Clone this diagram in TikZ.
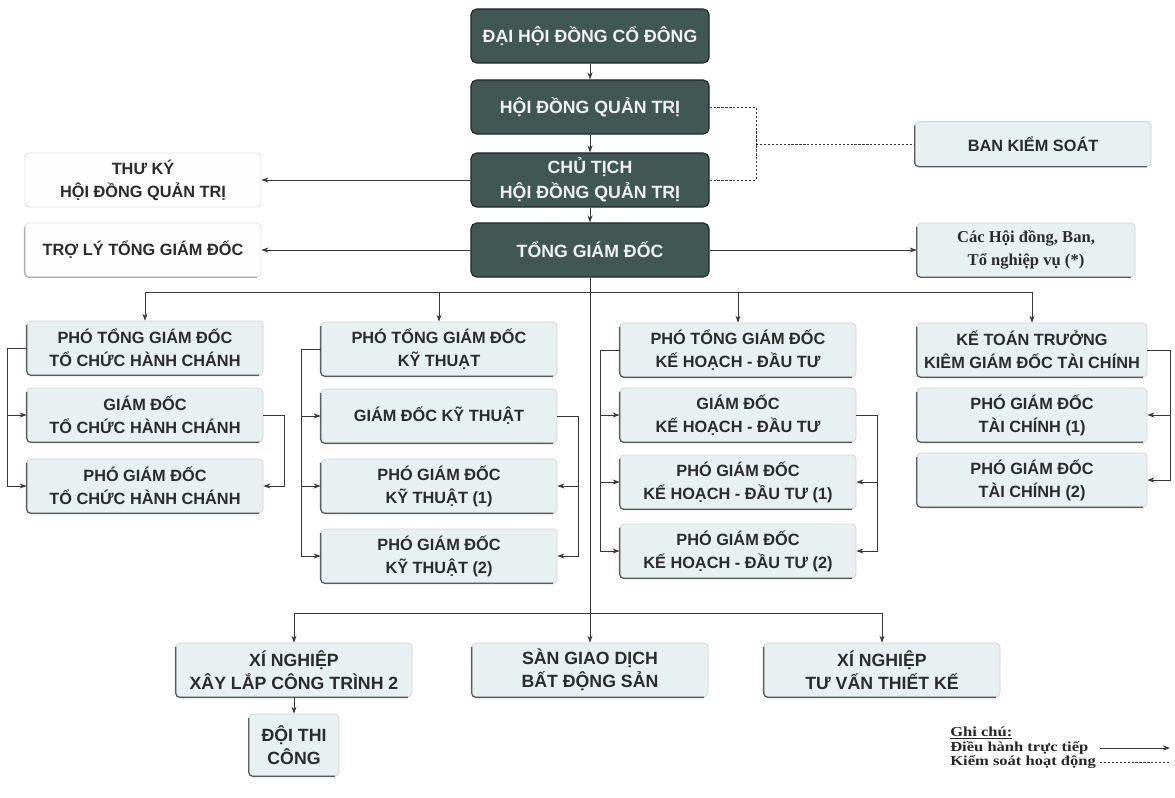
\documentclass[tikz,border=0pt]{standalone}
\usepackage{fontspec}
\setmainfont{Liberation Serif}
\setsansfont{Liberation Sans}
\newfontfamily\legendfont[FakeStretch=1.2]{Liberation Serif}
\usetikzlibrary{arrows.meta}

\definecolor{boxdark}{HTML}{415753}
\definecolor{boxdarkline}{HTML}{1F2A28}
\definecolor{boxlight}{HTML}{E9F0F2}
\definecolor{boxedge}{HTML}{585D5E}
\definecolor{linegray}{HTML}{383838}
\definecolor{textgray}{HTML}{2B2B2B}

\tikzset{
  darkbox/.style={rectangle, rounded corners=4pt, fill=boxdark, draw=boxdarkline, line width=0.8pt,
    text=white!92!boxdark, font=\sffamily\bfseries\fontsize{12.6}{17.5}\selectfont, align=center,
    minimum width=5.95cm, minimum height=1.35cm, inner sep=0pt},
  lightbox/.style={rectangle, rounded corners=3pt, fill=boxlight, draw=black!18, line width=0.5pt,
    text=textgray, font=\sffamily\bfseries\fontsize{11.6}{16.3}\selectfont, align=center,
    minimum width=5.9cm, minimum height=1.35cm, inner sep=0pt},
  plainbox/.style={lightbox, fill=white!96!boxlight, draw=black!12},
  unitbox/.style={lightbox, font=\sffamily\bfseries\fontsize{12.6}{16.5}\selectfont},
  legendtext/.style={anchor=west, inner sep=0pt, text=black!85, font=\legendfont\bfseries\fontsize{9.8}{10}\selectfont},
  conn/.style={draw=linegray, line width=0.6pt, -{Stealth[length=5pt,width=3.6pt]}},
  trunk/.style={draw=linegray, line width=0.6pt},
  ctrl/.style={draw=linegray, line width=0.7pt, dash pattern=on 1.6pt off 1.2pt},
  boxrim/.style={draw=boxedge, line width=0.9pt, rounded corners=3pt},
}

\begin{document}
\begin{tikzpicture}[x=0.025cm, y=-0.025cm]
    \useasboundingbox (0,0) rectangle (1175,797);

    % Top management
    \node[darkbox] (dhcd) at (590,36) {ĐẠI HỘI ĐỒNG CỔ ĐÔNG};
    \node[darkbox] (hdqt) at (590,107) {HỘI ĐỒNG QUẢN TRỊ};
    \node[darkbox] (ctich) at (590,180) {CHỦ TỊCH\\HỘI ĐỒNG QUẢN TRỊ};
    \node[darkbox] (tgd) at (590,250) {TỔNG GIÁM ĐỐC};

    % Side boxes
    \node[plainbox] (thuky) at (143,180) {THƯ KÝ\\HỘI ĐỒNG QUẢN TRỊ};
    \node[plainbox] (troly) at (143,250) {TRỢ LÝ TỔNG GIÁM ĐỐC};
    \node[lightbox, minimum height=1.12cm] (bks) at (1033,144) {BAN KIỂM SOÁT};
    \node[lightbox, minimum width=5.45cm, font=\rmfamily\bfseries\fontsize{11.8}{16.5}\selectfont] (hoidong) at (1026,250) {Các Hội đồng, Ban,\\Tổ nghiệp vụ (*)};

    % Column: hanh chanh
    \node[lightbox] (hc1) at (145,348) {PHÓ TỔNG GIÁM ĐỐC\\TỔ CHỨC HÀNH CHÁNH};
    \node[lightbox] (hc2) at (145,415) {GIÁM ĐỐC\\TỔ CHỨC HÀNH CHÁNH};
    \node[lightbox] (hc3) at (145,486) {PHÓ GIÁM ĐỐC\\TỔ CHỨC HÀNH CHÁNH};

    % Column: ky thuat
    \node[lightbox] (kt1) at (439,349) {PHÓ TỔNG GIÁM ĐỐC\\KỸ THUẠT};
    \node[lightbox] (kt2) at (439,416) {GIÁM ĐỐC KỸ THUẬT};
    \node[lightbox] (kt3) at (439,486) {PHÓ GIÁM ĐỐC\\KỸ THUẬT (1)};
    \node[lightbox] (kt4) at (439,556) {PHÓ GIÁM ĐỐC\\KỸ THUẬT (2)};

    % Column: ke hoach
    \node[lightbox] (kh1) at (738,350) {PHÓ TỔNG GIÁM ĐỐC\\KẾ HOẠCH - ĐẦU TƯ};
    \node[lightbox] (kh2) at (738,415) {GIÁM ĐỐC\\KẾ HOẠCH - ĐẦU TƯ};
    \node[lightbox] (kh3) at (738,482) {PHÓ GIÁM ĐỐC\\KẾ HOẠCH - ĐẦU TƯ (1)};
    \node[lightbox] (kh4) at (738,551) {PHÓ GIÁM ĐỐC\\KẾ HOẠCH - ĐẦU TƯ (2)};

    % Column: tai chinh
    \node[lightbox, minimum width=5.75cm] (tc1) at (1032,350) {KẾ TOÁN TRƯỞNG\\KIÊM GIÁM ĐỐC TÀI CHÍNH};
    \node[lightbox, minimum width=5.75cm] (tc2) at (1032,415) {PHÓ GIÁM ĐỐC\\TÀI CHÍNH (1)};
    \node[lightbox, minimum width=5.75cm] (tc3) at (1032,480) {PHÓ GIÁM ĐỐC\\TÀI CHÍNH (2)};

    % Units
    \node[unitbox] (xnxl) at (294,670) {XÍ NGHIỆP\\XÂY LẮP CÔNG TRÌNH 2};
    \node[unitbox] (san) at (590,670) {SÀN GIAO DỊCH\\BẤT ĐỘNG SẢN};
    \node[unitbox] (xntv) at (882,670) {XÍ NGHIỆP\\TƯ VẤN THIẾT KẾ};
    \node[unitbox, minimum width=2.25cm, minimum height=1.55cm] (doi) at (294,745) {ĐỘI THI\\CÔNG};

    % Darker left and bottom rims
    \foreach \n in {hc1,hc2,hc3,kt1,kt2,kt3,kt4,kh1,kh2,kh3,kh4,tc1,tc2,tc3,bks,hoidong,xnxl,san,xntv,doi}
        \draw[boxrim] ([yshift=-3pt]\n.north west) -- (\n.south west) -- ([xshift=-3pt]\n.south east);
    \draw[boxrim, draw=black!30] ([yshift=-3pt]troly.north west) -- (troly.south west) -- ([xshift=-3pt]troly.south east);

    % Main chain
    \foreach \a/\b in {dhcd/hdqt, hdqt/ctich, ctich/tgd}
        \draw[conn] (\a) -- (\b);
    \draw[conn] (ctich.west) -- (thuky.east);
    \draw[conn] (tgd.west) -- (troly.east);
    \draw[conn] (tgd.east) -- (hoidong.west);

    % Control lines
    \coordinate (ksjoin) at (756,144);
    \draw[ctrl] (hdqt.east) -| (ksjoin);
    \draw[ctrl] (ctich.east) -| (ksjoin);
    \draw[ctrl] (ksjoin) -- (bks.west);

    % Buses
    \coordinate (topbus) at (590,292);
    \coordinate (lowbus) at (590,613);
    \draw[trunk] (tgd.south) -- (lowbus);
    \foreach \n in {hc1,kt1,kh1,tc1}
        \draw[conn] (topbus) -| (\n.north);
    \foreach \n in {xnxl,san,xntv}
        \draw[conn] (lowbus) -| (\n.north);
    \draw[conn] (xnxl) -- (doi);

    % Brackets inside columns
    \foreach \c/\m in {hc/3, kt/4, kh/4} {
        \foreach \i in {2,...,\m}
            \draw[conn] (\c1.west) -- ++(-19,0) |- (\c\i.west);
        \foreach \i in {3,...,\m}
            \draw[conn] (\c2.east) -- ++(21,0) |- (\c\i.east);
    }
    \foreach \i in {2,3}
        \draw[conn] (tc1.east) -- ++(23,0) |- (tc\i.east);

    % Legend
    \node[legendtext] (legT) at (950,733) {\underline{Ghi chú:}};
    \node[legendtext] (legA) at (950,748) {Điều hành trực tiếp};
    \node[legendtext] (legB) at (950,762) {Kiểm soát hoạt động};
    \coordinate (legAstart) at (1100,748);
    \coordinate (legAend) at (1170,748);
    \coordinate (legBstart) at (1100,762);
    \coordinate (legBend) at (1170,762);
    \draw[conn] (legAstart) -- (legAend);
    \draw[ctrl] (legBstart) -- (legBend);
\end{tikzpicture}
\end{document}
